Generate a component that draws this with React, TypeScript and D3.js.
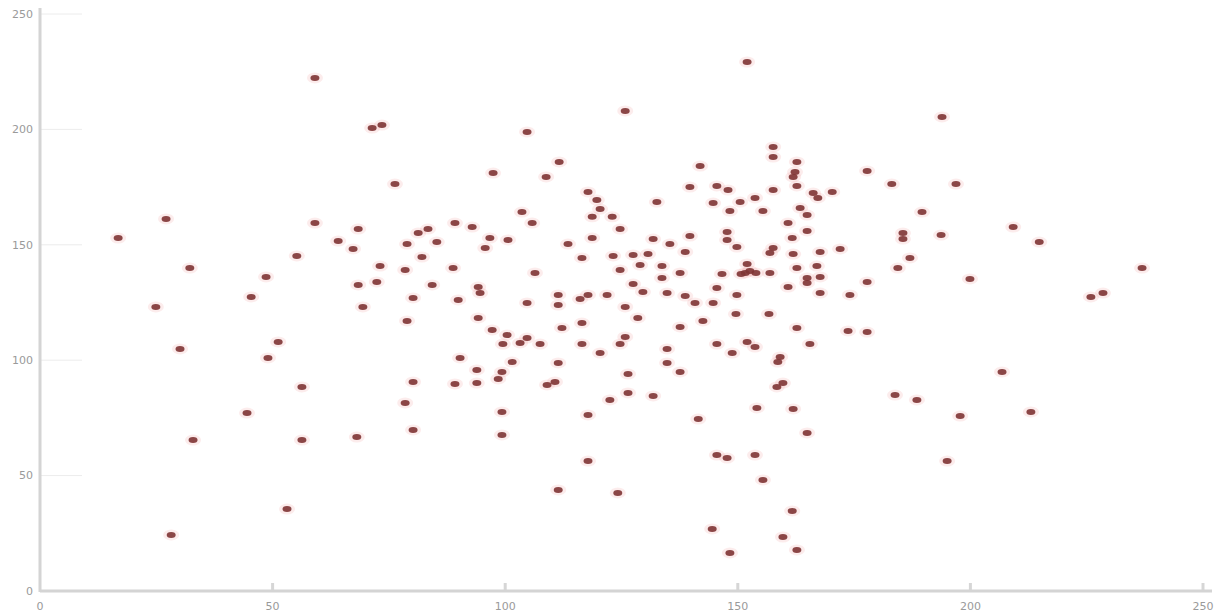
import React, { useEffect, useRef } from "react";
import * as d3 from "d3";

// Scatter of x/y pairs (both on a 0–250 scale)
const xValues: number[] = [
  59.1, 71.4, 73.5, 76.3, 27.1, 16.8, 59.1, 68.4, 64.1, 67.3, 78.9, 81.3, 83.4, 82.1, 85.3, 55.2, 73.1, 78.5, 32.2, 48.6,
  68.4, 72.4, 84.3, 80.2, 45.4,
  152.0, 125.8, 104.7, 157.6, 157.6, 162.7, 141.9, 111.6, 97.4, 108.8, 162.3, 161.9, 117.8, 119.7, 120.4, 118.7, 123.0, 132.6, 139.7, 145.5,
  147.9, 157.6, 162.7, 166.2, 170.3, 167.2, 144.7, 148.3, 150.5, 153.7, 155.4, 163.4, 164.9, 103.6, 105.8, 89.2, 92.9, 96.7, 100.6, 95.7,
  124.7, 118.7, 131.8, 135.4, 139.7, 138.7, 147.7, 147.7, 149.8, 160.8, 161.7, 164.9, 157.6, 156.9, 161.9, 167.7, 172.0, 113.5, 116.5, 123.2,
  127.5, 130.7, 129.0, 133.7, 133.7, 137.6, 124.7, 88.8, 106.4, 94.2, 94.6, 89.9, 111.4, 116.1, 117.8, 121.9, 127.5, 129.6, 134.8, 138.7,
  146.6, 145.5, 151.6, 152.6, 153.9, 152.0, 150.7, 156.9, 162.7, 167.0, 164.9, 164.9, 167.7, 160.8, 149.8, 167.7,
  193.9, 177.8, 183.1, 196.9, 189.6, 185.5, 185.5, 193.7, 209.2, 214.8, 187.0, 184.4, 177.8, 199.9, 174.1, 236.9, 228.5, 225.9,
  24.9, 69.4, 78.9, 30.1, 51.2, 49.0, 56.3, 80.2, 78.5, 80.2, 44.5, 32.9, 56.3, 68.1, 53.1, 28.2,
  94.2, 104.7, 111.4, 125.8, 128.5, 140.8, 144.7, 149.6, 156.7, 162.7, 165.5, 97.2, 100.4, 104.7, 99.5, 103.2, 107.5, 112.2, 116.5, 116.5,
  120.4, 125.8, 124.7, 137.6, 142.5, 134.8, 134.8, 137.6, 145.5, 148.8, 152.0, 153.7, 159.1, 158.6, 159.7, 158.4, 90.3, 101.5, 111.4, 93.9,
  99.3, 93.9, 98.5, 89.2, 109.0, 110.7, 126.4, 126.4, 131.8, 122.5, 99.3, 99.3, 117.8, 141.5, 154.1, 161.9, 164.9, 145.5, 147.7, 153.7,
  155.4, 117.8, 111.4, 124.2, 161.7, 144.5, 159.7, 148.3, 162.7,
  173.7, 177.8, 206.8, 183.8, 188.5, 197.8, 213.0, 195.0,
];

const yValues: number[] = [
  222.3, 200.6, 201.9, 176.3, 161.2, 152.9, 159.4, 156.8, 151.6, 148.2, 150.3, 155.1, 156.8, 144.7, 151.2, 145.2, 140.8, 139.1, 139.9, 136.1,
  132.6, 133.9, 132.6, 127.0, 127.4,
  229.2, 208.0, 198.9, 192.4, 188.0, 185.9, 184.1, 185.9, 181.1, 179.4, 181.5, 179.4, 172.9, 169.4, 165.5, 162.1, 162.1, 168.5, 175.0, 175.5,
  173.7, 173.7, 175.5, 172.4, 172.9, 170.3, 168.1, 164.6, 168.5, 170.3, 164.6, 165.9, 162.9, 164.2, 159.4, 159.4, 157.7, 152.9, 152.1, 148.6,
  156.8, 152.9, 152.5, 150.3, 153.8, 146.9, 155.5, 152.1, 149.0, 159.4, 152.9, 156.0, 148.6, 146.5, 146.0, 146.9, 148.2, 150.3, 144.3, 145.2,
  145.6, 146.0, 141.2, 140.8, 135.6, 137.8, 139.1, 139.9, 137.8, 131.7, 129.1, 126.1, 128.3, 126.5, 128.3, 128.3, 133.0, 129.6, 129.1, 127.8,
  137.4, 131.3, 137.8, 138.7, 137.8, 141.7, 137.4, 137.8, 139.9, 140.8, 135.6, 133.5, 136.1, 131.7, 128.3, 129.1,
  205.4, 182.0, 176.3, 176.3, 164.2, 155.1, 152.5, 154.2, 157.7, 151.2, 144.3, 139.9, 133.9, 135.2, 128.3, 139.9, 129.1, 127.4,
  123.1, 123.1, 117.0, 104.9, 107.9, 101.0, 88.4, 90.6, 81.5, 69.8, 77.1, 65.4, 65.4, 66.7, 35.5, 24.3,
  118.3, 124.8, 123.9, 123.1, 118.3, 124.8, 124.8, 120.0, 120.0, 114.0, 107.0, 113.1, 110.9, 109.6, 107.0, 107.5, 107.0, 114.0, 116.1, 107.0,
  103.1, 110.1, 107.0, 114.4, 117.0, 104.9, 98.8, 94.9, 107.0, 103.1, 107.9, 105.7, 101.4, 99.2, 90.1, 88.4, 101.0, 99.2, 98.8, 95.8,
  94.9, 90.1, 91.9, 89.7, 89.3, 90.6, 94.0, 85.8, 84.5, 82.8, 77.6, 67.6, 76.3, 74.5, 79.3, 78.9, 68.5, 58.9, 57.6, 58.9,
  48.1, 56.3, 43.8, 42.5, 34.7, 26.9, 23.4, 16.5, 17.8,
  112.7, 112.2, 94.9, 84.9, 82.8, 75.8, 77.6, 56.3,
];

const xTicks: number[] = [0, 50, 100, 150, 200, 250];
const yTicks: number[] = [0, 50, 100, 150, 200, 250];

const WIDTH = 1218;
const HEIGHT = 616;

export default function App() {
  const ref = useRef<SVGSVGElement | null>(null);

  useEffect(() => {
    const svg = d3.select(ref.current);
    svg.selectAll("*").remove();

    const x = d3.scaleLinear().domain([0, 250]).range([40, 1203]);
    const y = d3.scaleLinear().domain([0, 250]).range([591, 14]);

    const points = xValues.map((v, i) => ({ x: v, y: yValues[i] }));

    // faint stubs at each y tick running into the plot
    svg
      .append("g")
      .selectAll("line")
      .data(yTicks.filter((t) => t > 0))
      .join("line")
      .attr("x1", 40)
      .attr("x2", 82)
      .attr("y1", (d) => y(d))
      .attr("y2", (d) => y(d))
      .attr("stroke", "#ececec")
      .attr("stroke-width", 1);

    // small upward ticks on the x axis
    svg
      .append("g")
      .selectAll("line")
      .data(xTicks.filter((t) => t > 0))
      .join("line")
      .attr("x1", (d) => x(d))
      .attr("x2", (d) => x(d))
      .attr("y1", 591)
      .attr("y2", 583)
      .attr("stroke", "#d6d6d6")
      .attr("stroke-width", 3);

    // axis lines
    svg
      .append("line")
      .attr("x1", 40)
      .attr("x2", 40)
      .attr("y1", 8)
      .attr("y2", 592)
      .attr("stroke", "#d4d4d4")
      .attr("stroke-width", 3);
    svg
      .append("line")
      .attr("x1", 40)
      .attr("x2", 1212)
      .attr("y1", 591)
      .attr("y2", 591)
      .attr("stroke", "#d4d4d4")
      .attr("stroke-width", 3);

    // tick labels
    svg
      .append("g")
      .selectAll("text")
      .data(yTicks)
      .join("text")
      .attr("x", 33)
      .attr("y", (d) => y(d))
      .attr("dy", "0.35em")
      .attr("text-anchor", "end")
      .attr("font-family", "DejaVu Sans, sans-serif")
      .attr("font-size", 11)
      .attr("fill", "#9a9a9a")
      .text((d) => String(d));

    svg
      .append("g")
      .selectAll("text")
      .data(xTicks)
      .join("text")
      .attr("x", (d) => x(d))
      .attr("y", 606)
      .attr("dy", "0.35em")
      .attr("text-anchor", "middle")
      .attr("font-family", "DejaVu Sans, sans-serif")
      .attr("font-size", 11)
      .attr("fill", "#9a9a9a")
      .text((d) => String(d));

    // soft halo under each point
    svg
      .append("g")
      .selectAll("ellipse")
      .data(points)
      .join("ellipse")
      .attr("cx", (d) => x(d.x))
      .attr("cy", (d) => y(d.y))
      .attr("rx", 8)
      .attr("ry", 5.5)
      .attr("fill", "rgba(235,120,120,0.14)");

    // points
    svg
      .append("g")
      .selectAll("ellipse")
      .data(points)
      .join("ellipse")
      .attr("cx", (d) => x(d.x))
      .attr("cy", (d) => y(d.y))
      .attr("rx", 4.5)
      .attr("ry", 3)
      .attr("fill", "#7e3434")
      .attr("fill-opacity", 0.9);
  }, []);

  return (
    <svg
      ref={ref}
      width={WIDTH}
      height={HEIGHT}
      style={{ position: "absolute", left: 0, top: 0, background: "#fff" }}
    />
  );
}
